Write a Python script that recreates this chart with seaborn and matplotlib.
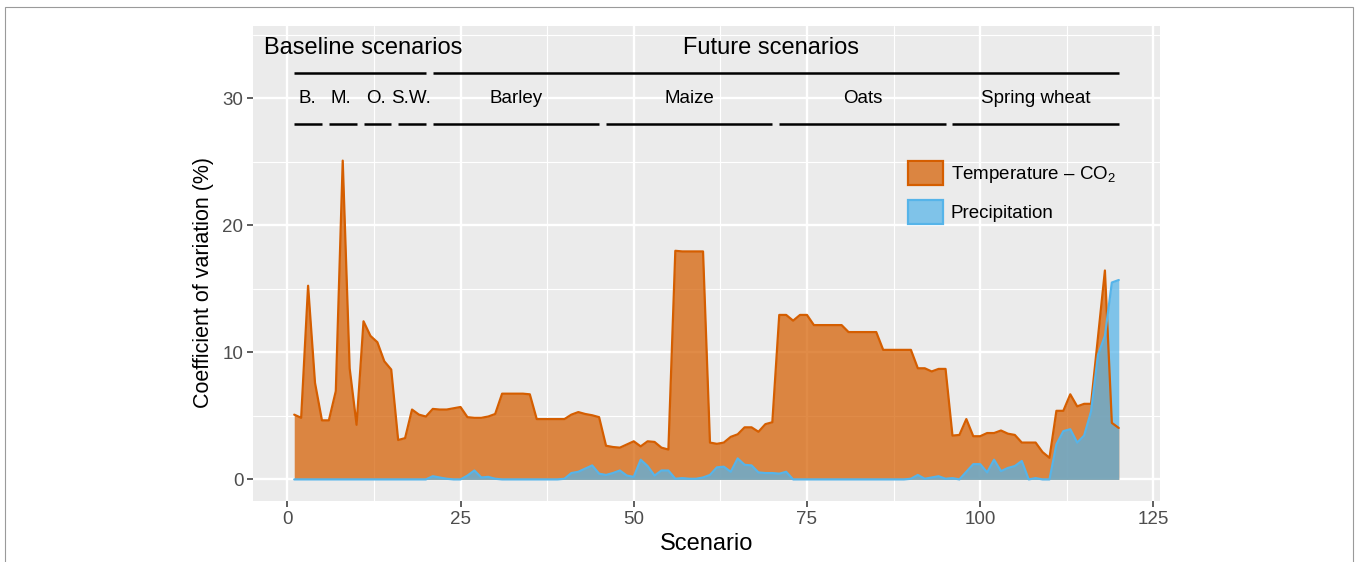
"""
Coefficient of variation per scenario, split into temperature-CO2 and
precipitation contributions, with baseline/future scenario brackets.

Saves out.png (1357x562).
"""
import numpy as np
import pandas as pd
import matplotlib
matplotlib.use("Agg")
import matplotlib.pyplot as plt
import seaborn as sns
from matplotlib.colors import to_rgba
from matplotlib.patches import Patch, Rectangle
from matplotlib.ticker import MultipleLocator

# ── data ──────────────────────────────────────────────────────────────
SCENARIO = np.arange(1, 121)

TEMP_CO2 = [
    5.1, 4.85, 15.25, 7.6, 4.65, 4.65, 6.95, 25.1, 8.75, 4.3,
    12.45, 11.3, 10.8, 9.3, 8.65, 3.1, 3.25, 5.5, 5.1, 4.95,
    5.55, 5.5, 5.5, 5.6, 5.7, 4.9, 4.85, 4.85, 4.95, 5.15,
    6.75, 6.75, 6.75, 6.75, 6.7, 4.75, 4.75, 4.75, 4.75, 4.75,
    5.1, 5.3, 5.15, 5.05, 4.9, 2.65, 2.55, 2.5, 2.75, 3.0,
    2.6, 3.0, 2.95, 2.5, 2.35, 18.0, 17.95, 17.95, 17.95, 17.95,
    2.9, 2.8, 2.9, 3.35, 3.55, 4.1, 4.1, 3.75, 4.35, 4.5,
    12.95, 12.95, 12.5, 12.95, 12.95, 12.15, 12.15, 12.15, 12.15, 12.15,
    11.6, 11.6, 11.6, 11.6, 11.6, 10.2, 10.2, 10.2, 10.2, 10.2,
    8.75, 8.75, 8.5, 8.7, 8.7, 3.45, 3.5, 4.75, 3.4, 3.4,
    3.65, 3.65, 3.85, 3.6, 3.5, 2.9, 2.9, 2.9, 2.15, 1.7,
    5.4, 5.4, 6.7, 5.75, 5.95, 5.95, 11.2, 16.45, 4.45, 4.05,
]

PRECIP = [
    0, 0, 0, 0, 0, 0, 0, 0, 0, 0,
    0, 0, 0, 0, 0, 0, 0, 0, 0, 0,
    0.25, 0.15, 0.05, 0, 0, 0.3, 0.7, 0.15, 0.2, 0.05,
    0, 0, 0, 0, 0, 0, 0, 0, 0, 0.05,
    0.5, 0.6, 0.85, 1.1, 0.45, 0.35, 0.5, 0.7, 0.3, 0.2,
    1.55, 1.05, 0.3, 0.7, 0.7, 0.05, 0.1, 0.05, 0.05, 0.15,
    0.35, 0.95, 1.0, 0.6, 1.65, 1.15, 1.1, 0.55, 0.5, 0.5,
    0.45, 0.6, 0, 0, 0, 0, 0, 0, 0, 0,
    0, 0, 0, 0, 0, 0, 0, 0, 0, 0.05,
    0.35, 0.05, 0.15, 0.25, 0.05, 0.1, 0, 0.6, 1.2, 1.2,
    0.55, 1.55, 0.65, 0.9, 1.05, 1.45, 0, 0.1, 0, 0,
    2.75, 3.8, 3.95, 2.9, 3.45, 5.35, 9.8, 11.3, 15.5, 15.7,
]

SERIES = ["Temperature – CO$_2$", "Precipitation"]
COLORS = ["#D55E00", "#56B4E9"]

# crop brackets (lower row) and period brackets (upper row)
CROP_LABELS = ["B.", "M.", "O.", "S.W.", "Barley", "Maize", "Oats", "Spring wheat"]
CROP_START = [1, 6, 11, 16, 21, 46, 71, 96]
CROP_END = [5, 10, 15, 20, 45, 70, 95, 120]
CROP_TEXT_X = [2.9, 7.8, 12.8, 17.8, 33, 58, 83, 108]
PERIOD_LABELS = ["Baseline scenarios", "Future scenarios"]
PERIOD_START = [1, 21]
PERIOD_END = [20, 120]
PERIOD_TEXT_X = [10.9, 69.8]

CROP_LINE_Y, CROP_TEXT_Y = 28, 30
PERIOD_LINE_Y, PERIOD_TEXT_Y = 32, 34

# ── style ─────────────────────────────────────────────────────────────
sns.set_theme(style="darkgrid", rc={
    "axes.facecolor": "#EBEBEB",
    "grid.color": "white",
    "axes.edgecolor": "#EBEBEB",
})
plt.rcParams["font.family"] = ["Liberation Sans", "DejaVu Sans"]
plt.rcParams["mathtext.fontset"] = "custom"
plt.rcParams["mathtext.rm"] = "Liberation Sans"
plt.rcParams["mathtext.it"] = "Liberation Sans:italic"

df = pd.DataFrame({
    "Scenario": np.concatenate([SCENARIO, SCENARIO]),
    "cv": TEMP_CO2 + PRECIP,
    "source": [SERIES[0]] * len(SCENARIO) + [SERIES[1]] * len(SCENARIO),
})

fig, ax = plt.subplots(figsize=(13.57, 5.62), dpi=100)
fig.subplots_adjust(left=253 / 1357, right=1160 / 1357, top=1 - 26 / 562, bottom=1 - 501 / 562)

ALPHA = 0.72
for name, color in zip(SERIES, COLORS):
    sub = df[df["source"] == name]
    ax.fill_between(sub["Scenario"], 0, sub["cv"], color=color, alpha=ALPHA, lw=0, zorder=2)
    sns.lineplot(data=sub, x="Scenario", y="cv", color=color, lw=1.6, ax=ax,
                 legend=False, zorder=3)

# brackets
ax.hlines([CROP_LINE_Y] * len(CROP_START), CROP_START, CROP_END, color="black", lw=1.8,
          zorder=4, capstyle="butt")
ax.hlines([PERIOD_LINE_Y] * len(PERIOD_START), PERIOD_START, PERIOD_END, color="black", lw=1.8,
          zorder=4, capstyle="butt")
for lab, x in zip(CROP_LABELS, CROP_TEXT_X):
    ax.text(x, CROP_TEXT_Y, lab, ha="center", va="center", fontsize=13.5, color="black")
for lab, x in zip(PERIOD_LABELS, PERIOD_TEXT_X):
    ax.text(x, PERIOD_TEXT_Y, lab, ha="center", va="center", fontsize=17, color="black")

# axes
ax.set_xlim(-4.95, 125.95)
ax.set_ylim(-1.7, 35.7)
ax.xaxis.set_major_locator(MultipleLocator(25))
ax.xaxis.set_minor_locator(MultipleLocator(12.5))
ax.yaxis.set_major_locator(MultipleLocator(10))
ax.yaxis.set_minor_locator(MultipleLocator(5))
ax.grid(which="major", color="white", lw=1.7)
ax.grid(which="minor", color="white", lw=0.8)
ax.tick_params(which="major", length=4, width=1.1, color="#333333", labelcolor="#4D4D4D",
               labelsize=13.5, pad=3, bottom=True, left=True)
ax.tick_params(which="minor", length=0)
for sp in ax.spines.values():
    sp.set_visible(False)
ax.set_xlabel("Scenario", fontsize=17, color="black", labelpad=4)
ax.set_ylabel("Coefficient of variation (%)", fontsize=15.5, color="black")
ax.yaxis.set_label_coords(-0.043, 0.461)

handles = [Patch(facecolor=to_rgba(c, ALPHA), edgecolor=c, lw=1.6) for c in COLORS]
leg = ax.legend(handles, SERIES, loc="upper left", bbox_to_anchor=(0.722, 0.716), frameon=False,
                fontsize=13.5, handlelength=1.9, handleheight=1.6, handletextpad=0.4,
                labelspacing=0.8, borderpad=0, borderaxespad=0)
for t in leg.get_texts():
    t.set_color("black")

# thin frame around the figure, as in the source page
fig.add_artist(Rectangle((5 / 1357, -0.1), 1348 / 1357, 1.1 - 7 / 562, transform=fig.transFigure,
                         fill=False, edgecolor="#9A9A9A", lw=0.8))

fig.savefig("out.png", dpi=100)
plt.close(fig)
